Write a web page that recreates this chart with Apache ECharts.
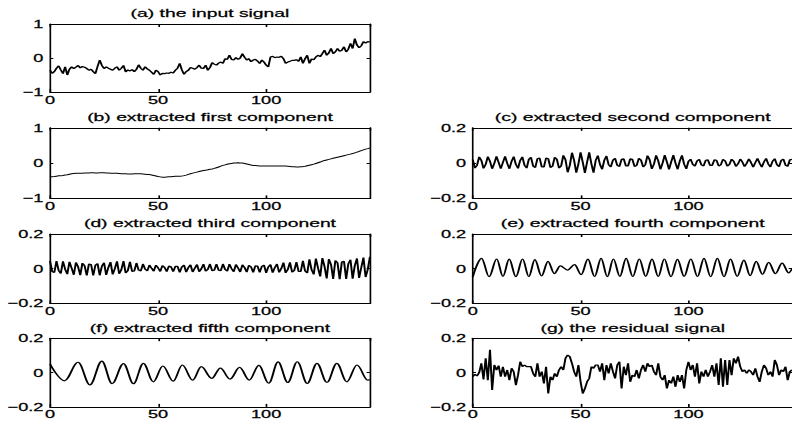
<!DOCTYPE html>
<html>
<head>
<meta charset="utf-8">
<script src="https://cdn.jsdelivr.net/npm/echarts@6/dist/echarts.min.js"></script>
<style>
  html, body { margin: 0; padding: 0; background: #fff; width: 792px; height: 422px; overflow: hidden; }
  /* the figure is laid out narrow and stretched sideways, giving the wide lettering */
  #chart { width: 480px; height: 422px; transform: scaleX(1.65); transform-origin: 0 0; }
</style>
</head>
<body>
<div id="chart"></div>
<script>
// ---- recorded data (one value per sample, samples 0..148) ----
const inputSignal = [
  -0.36,-0.45,-0.40,-0.30,-0.23,-0.35,-0.46,-0.26,-0.50,-0.33,
  -0.26,-0.31,-0.27,-0.22,-0.29,-0.25,-0.27,-0.31,-0.36,-0.33,
  -0.40,-0.46,-0.25,-0.06,-0.22,-0.31,-0.26,-0.30,-0.33,-0.36,
  -0.30,-0.26,-0.36,-0.30,-0.22,-0.41,-0.35,-0.38,-0.34,-0.40,
  -0.33,-0.20,-0.30,-0.36,-0.26,-0.32,-0.36,-0.42,-0.48,-0.36,
  -0.40,-0.50,-0.45,-0.46,-0.44,-0.45,-0.42,-0.44,-0.36,-0.30,
  -0.16,-0.35,-0.48,-0.40,-0.36,-0.28,-0.30,-0.33,-0.28,-0.21,
  -0.30,-0.31,-0.21,-0.36,-0.28,-0.14,-0.18,-0.21,-0.15,-0.12,
  -0.16,-0.02,-0.04,0.08,-0.04,-0.06,0.01,-0.04,0.00,0.13,
  0.02,-0.06,-0.02,-0.11,-0.06,-0.04,-0.09,-0.16,-0.06,-0.12,
  -0.21,-0.26,0.03,0.05,0.01,0.03,0.02,0.05,-0.02,-0.16,
  -0.12,-0.10,-0.07,-0.07,-0.05,-0.10,0.03,-0.16,-0.02,0.08,
  -0.16,-0.03,-0.05,0.03,0.08,0.04,0.13,0.23,0.08,0.15,
  0.28,0.13,0.18,0.28,0.20,0.23,0.33,0.18,0.26,0.43,
  0.28,0.57,0.38,0.30,0.36,0.48,0.44,0.48,0.47
];

const firstComponent = [
  -0.39,-0.385,-0.38,-0.37,-0.36,-0.355,-0.35,-0.34,-0.33,-0.315,
  -0.30,-0.295,-0.29,-0.29,-0.285,-0.285,-0.28,-0.28,-0.28,-0.275,
  -0.275,-0.28,-0.28,-0.275,-0.27,-0.275,-0.28,-0.28,-0.285,-0.285,
  -0.29,-0.29,-0.295,-0.30,-0.30,-0.305,-0.31,-0.31,-0.31,-0.305,
  -0.30,-0.30,-0.305,-0.31,-0.315,-0.32,-0.325,-0.335,-0.35,-0.365,
  -0.38,-0.39,-0.40,-0.40,-0.395,-0.39,-0.385,-0.38,-0.375,-0.37,
  -0.37,-0.365,-0.355,-0.34,-0.32,-0.30,-0.285,-0.27,-0.255,-0.24,
  -0.225,-0.21,-0.20,-0.19,-0.175,-0.165,-0.15,-0.13,-0.11,-0.085,
  -0.065,-0.05,-0.035,-0.02,-0.01,0.0,0.005,0.01,0.005,0.0,
  -0.01,-0.025,-0.04,-0.055,-0.065,-0.07,-0.075,-0.08,-0.08,-0.08,
  -0.085,-0.085,-0.08,-0.08,-0.08,-0.085,-0.085,-0.08,-0.08,-0.085,
  -0.09,-0.095,-0.10,-0.105,-0.11,-0.11,-0.105,-0.10,-0.09,-0.075,
  -0.06,-0.045,-0.03,-0.01,0.01,0.03,0.055,0.075,0.09,0.105,
  0.12,0.135,0.15,0.165,0.18,0.195,0.21,0.225,0.24,0.255,
  0.27,0.29,0.31,0.33,0.355,0.375,0.395,0.41,0.43
];

const secondComponent = [
  0.020,-0.028,-0.012,0.035,0.015,-0.030,-0.007,0.037,0.010,-0.032,
  -0.001,0.038,0.004,-0.032,0.004,0.038,-0.001,-0.032,0.010,0.037,
  -0.007,-0.030,0.015,0.035,-0.012,-0.028,0.021,0.033,-0.017,-0.025,
  0.025,0.029,-0.021,-0.021,0.029,0.025,-0.025,-0.017,0.033,0.021,
  -0.028,-0.016,0.044,0.019,-0.052,-0.013,0.059,0.015,-0.054,-0.004,
  0.061,0.005,-0.055,0.005,0.061,-0.004,-0.054,0.015,0.042,-0.008,
  -0.035,0.017,0.040,-0.009,-0.022,0.017,0.027,-0.013,-0.019,0.021,
  0.024,-0.016,-0.016,0.024,0.021,-0.019,-0.013,0.027,0.017,-0.022,
  -0.009,0.042,0.019,-0.033,-0.006,0.044,0.013,-0.035,0.000,0.045,
  0.007,-0.035,0.007,0.045,0.000,-0.035,0.013,0.044,-0.006,-0.033,
  0.010,0.022,-0.007,-0.017,0.013,0.021,-0.010,-0.016,0.016,0.018,
  -0.013,-0.013,0.018,0.016,-0.016,-0.010,0.021,0.013,-0.017,-0.007,
  0.022,0.010,-0.019,-0.004,0.023,0.006,-0.020,-0.001,0.024,0.003,
  -0.023,0.003,0.027,-0.001,-0.023,0.007,0.026,-0.005,-0.022,0.011,
  0.025,-0.009,-0.020,0.015,0.023,-0.012,-0.018,0.018,0.021
];

const thirdComponent = [
  0.045,-0.016,-0.022,0.044,-0.010,-0.027,0.043,-0.003,-0.031,0.040,
  0.004,-0.035,0.036,0.011,-0.037,0.032,0.017,-0.039,0.026,0.024,
  -0.039,0.020,0.029,-0.038,0.014,0.034,-0.036,0.007,0.038,-0.033,
  0.000,0.042,-0.029,-0.006,0.044,-0.024,-0.011,0.039,-0.016,-0.013,
  0.033,-0.008,-0.013,0.027,-0.003,-0.012,0.021,0.002,-0.014,0.020,
  0.005,-0.016,0.018,0.008,-0.017,0.015,0.011,-0.017,0.013,0.014,
  -0.021,0.011,0.020,-0.020,0.007,0.022,-0.019,0.003,0.024,-0.017,
  -0.001,0.026,-0.014,-0.004,0.027,-0.011,-0.008,0.027,-0.008,-0.011,
  0.027,-0.004,-0.014,0.026,0.000,-0.017,0.024,0.004,-0.019,0.022,
  0.007,-0.020,0.019,0.011,-0.021,0.016,0.015,-0.021,0.013,0.021,
  -0.024,0.010,0.024,-0.023,0.006,0.027,-0.021,0.001,0.035,-0.024,
  -0.005,0.037,-0.020,-0.010,0.038,-0.015,-0.016,0.045,-0.013,-0.025,
  0.054,-0.005,-0.033,0.059,0.003,-0.044,0.061,0.013,-0.056,0.055,
  0.024,-0.059,0.047,0.034,-0.060,0.038,0.043,-0.059,0.028,0.052,
  -0.057,0.018,0.059,-0.053,0.007,0.064,-0.048,-0.004,0.069
];

// turning points of the fourth component: sample position and value
const fourthTurnT = [
  0, 4.1, 7.6, 11.1, 14.0, 16.9, 20.0, 23.1, 26.0, 28.8,
  31.9, 34.9, 37.8, 40.6, 44.0, 47.2, 50.3, 53.4, 56.5, 59.5,
  62.4, 65.2, 68.2, 71.1, 74.2, 77.2, 80.2, 83.1, 86.0, 88.8,
  91.9, 94.9, 98.0, 101.1, 104.2, 107.2, 110.3, 113.4, 116.5, 119.5,
  122.6, 125.7, 128.6, 131.4, 134.3, 137.2, 140.3, 143.4, 146.5, 148
];
const fourthTurnV = [
  -0.048, 0.060, -0.046, 0.056, -0.044, 0.055, -0.046, 0.056, -0.045, 0.052,
  -0.042, 0.042, -0.028, 0.016, -0.008, 0.024, -0.034, 0.055, -0.045, 0.060,
  -0.046, 0.056, -0.044, 0.060, -0.045, 0.056, -0.044, 0.055, -0.045, 0.056,
  -0.046, 0.054, -0.044, 0.056, -0.045, 0.060, -0.046, 0.060, -0.046, 0.055,
  -0.044, 0.050, -0.040, 0.042, -0.032, 0.036, -0.028, 0.032, -0.024, 0.000
];

// turning points of the fifth component
const fifthTurnT = [
  0, 6.7, 13.0, 18.5, 24.0, 28.7, 34.0, 38.6, 43.2, 47.8,
  52.2, 57.0, 61.2, 66.0, 70.0, 74.8, 78.8, 83.3, 87.7, 92.2,
  96.6, 101.2, 105.5, 110.0, 114.4, 119.0, 123.5, 128.1, 132.7, 137.3,
  142.0, 147.0, 148
];
const fifthTurnV = [
  0.050, -0.048, 0.060, -0.072, 0.067, -0.065, 0.052, -0.065, 0.054, -0.054,
  0.038, -0.050, 0.044, -0.044, 0.034, -0.034, 0.026, -0.038, 0.030, -0.044,
  0.042, -0.062, 0.062, -0.058, 0.063, -0.063, 0.054, -0.058, 0.054, -0.054,
  0.044, -0.044, -0.040
];

const residualSignal = [
  -0.024,-0.010,-0.020,0.000,0.054,-0.040,0.083,-0.044,0.132,-0.102,
  0.044,0.015,0.040,-0.024,0.034,-0.024,0.015,-0.044,0.025,0.005,
  -0.073,-0.015,0.063,0.034,0.044,0.034,0.034,0.034,-0.005,-0.024,
  0.054,-0.024,0.005,-0.063,0.034,-0.122,-0.024,-0.044,-0.005,-0.024,
  0.015,0.034,0.015,0.083,0.102,0.093,0.054,0.005,-0.024,0.044,
  -0.054,-0.122,-0.093,-0.054,-0.034,0.034,0.025,0.044,0.044,0.005,
  0.054,-0.044,0.044,-0.005,0.054,0.005,-0.034,0.044,0.063,-0.093,
  0.034,-0.015,0.054,-0.054,-0.015,-0.024,0.015,-0.034,0.015,0.044,
  0.005,0.054,0.034,0.044,0.005,-0.015,0.054,-0.024,-0.044,-0.015,
  -0.093,-0.044,-0.063,-0.024,-0.083,-0.015,-0.054,-0.015,-0.093,0.015,
  0.063,0.015,0.044,-0.024,0.054,-0.063,0.005,-0.024,0.015,-0.024,
  0.005,0.044,-0.024,0.054,-0.073,0.083,-0.083,0.073,-0.073,0.073,
  -0.015,0.083,0.054,0.093,0.034,0.005,0.015,-0.005,0.015,0.005,
  -0.015,0.025,-0.024,-0.054,0.005,0.044,0.025,-0.015,0.005,-0.024,
  0.073,0.044,-0.015,0.015,0.005,0.034,-0.044,0.005,0.015
];

// axis extents and tick labels
const sampleMax = 148;
const xTickValues = [0, 50, 100];
const bigRange = [-1, 1, 1];       // min, max, step
const smallRange = [-0.2, 0.2, 0.2];

const panelTitles = [
  '(a) the input signal',
  '(b) extracted first component',
  '(c) extracted second component',
  '(d) extracted third component',
  '(e) extracted fourth component',
  '(f) extracted fifth component',
  '(g) the residual signal'
];

// ---- layout (chart units; the element is stretched 1.65x horizontally) ----
const FONT = '"Liberation Sans", Arial, Helvetica, sans-serif';
const colLeft = [30.3, 286.5];
const plotW = 193.9;
const rows = [
  { top: 24, height: 68 },
  { top: 127.8, height: 70.6 },
  { top: 234, height: 69.4 },
  { top: 338.2, height: 68.7 }
];

const bySample = arr => arr.map((v, i) => [i, v]);
const byTurn = (ts, vs) => ts.map((t, i) => [t, vs[i]]);

const panels = [
  { col: 0, row: 0, range: bigRange,   data: bySample(inputSignal),     smooth: false },
  { col: 0, row: 1, range: bigRange,   data: bySample(firstComponent),  smooth: false },
  { col: 1, row: 1, range: smallRange, data: bySample(secondComponent), smooth: false },
  { col: 0, row: 2, range: smallRange, data: bySample(thirdComponent),  smooth: false },
  { col: 1, row: 2, range: smallRange, data: byTurn(fourthTurnT, fourthTurnV), smooth: 0.364 },
  { col: 0, row: 3, range: smallRange, data: byTurn(fifthTurnT, fifthTurnV),   smooth: 0.364 },
  { col: 1, row: 3, range: smallRange, data: bySample(residualSignal),  smooth: false }
];

const minusFmt = v => {
  const r = Math.round(v * 1000) / 1000;
  if (r === 0) return '0';
  return r < 0 ? '\u2212' + String(-r) : String(r);
};

// slightly heavier lettering
const textInk = { color: '#000', textBorderColor: '#000', textBorderWidth: 0.25 };

const grid = [], xAxis = [], yAxis = [], series = [], graphic = [];
const black = '#000';

panels.forEach((p, i) => {
  const r = rows[p.row];
  grid.push({ left: colLeft[p.col], top: r.top, width: plotW, height: r.height, containLabel: false });

  const xBase = {
    gridIndex: i, type: 'value', min: 0, max: sampleMax, interval: 50,
    splitLine: { show: false },
    axisLine: { show: true, onZero: false, lineStyle: { color: black, width: 1 } },
    axisTick: { show: true, inside: true, length: 3, lineStyle: { color: black, width: 1 } }
  };
  xAxis.push(Object.assign({}, xBase, {
    position: 'bottom',
    axisLabel: Object.assign({
      show: true, margin: 2, fontSize: 11, fontFamily: FONT,
      showMaxLabel: false,
      formatter: v => (xTickValues.indexOf(v) >= 0 ? String(v) : '')
    }, textInk)
  }));
  xAxis.push(Object.assign({}, xBase, { position: 'top', axisLabel: { show: false } }));

  const yBase = {
    gridIndex: i, type: 'value', min: p.range[0], max: p.range[1], interval: p.range[2],
    splitLine: { show: false },
    axisLine: { show: true, onZero: false, lineStyle: { color: black, width: 1 } },
    axisTick: { show: true, inside: true, length: 2, lineStyle: { color: black, width: 1 } }
  };
  yAxis.push(Object.assign({}, yBase, {
    position: 'left',
    axisLabel: Object.assign({ show: true, margin: 4, fontSize: 11, fontFamily: FONT, formatter: minusFmt }, textInk)
  }));
  yAxis.push(Object.assign({}, yBase, { position: 'right', axisLabel: { show: false } }));

  series.push({
    type: 'line', xAxisIndex: 2 * i, yAxisIndex: 2 * i,
    data: p.data, symbol: 'none', showSymbol: false,
    smooth: p.smooth, smoothMonotone: p.smooth ? 'x' : undefined,
    lineStyle: { color: black, width: i === 1 ? 1 : 1.2 },
    clip: true, silent: true
  });

  graphic.push({
    type: 'text',
    x: colLeft[p.col] + plotW / 2,
    y: r.top - 10.6,
    style: {
      text: panelTitles[i], fill: black, fontSize: 11.7, fontFamily: FONT,
      align: 'center', verticalAlign: 'middle',
      stroke: black, lineWidth: 0.25
    }
  });
});

const chart = echarts.init(document.getElementById('chart'), null, { renderer: 'svg' });
chart.setOption({
  backgroundColor: '#fff',
  animation: false,
  grid, xAxis, yAxis, series, graphic
});
</script>
</body>
</html>
